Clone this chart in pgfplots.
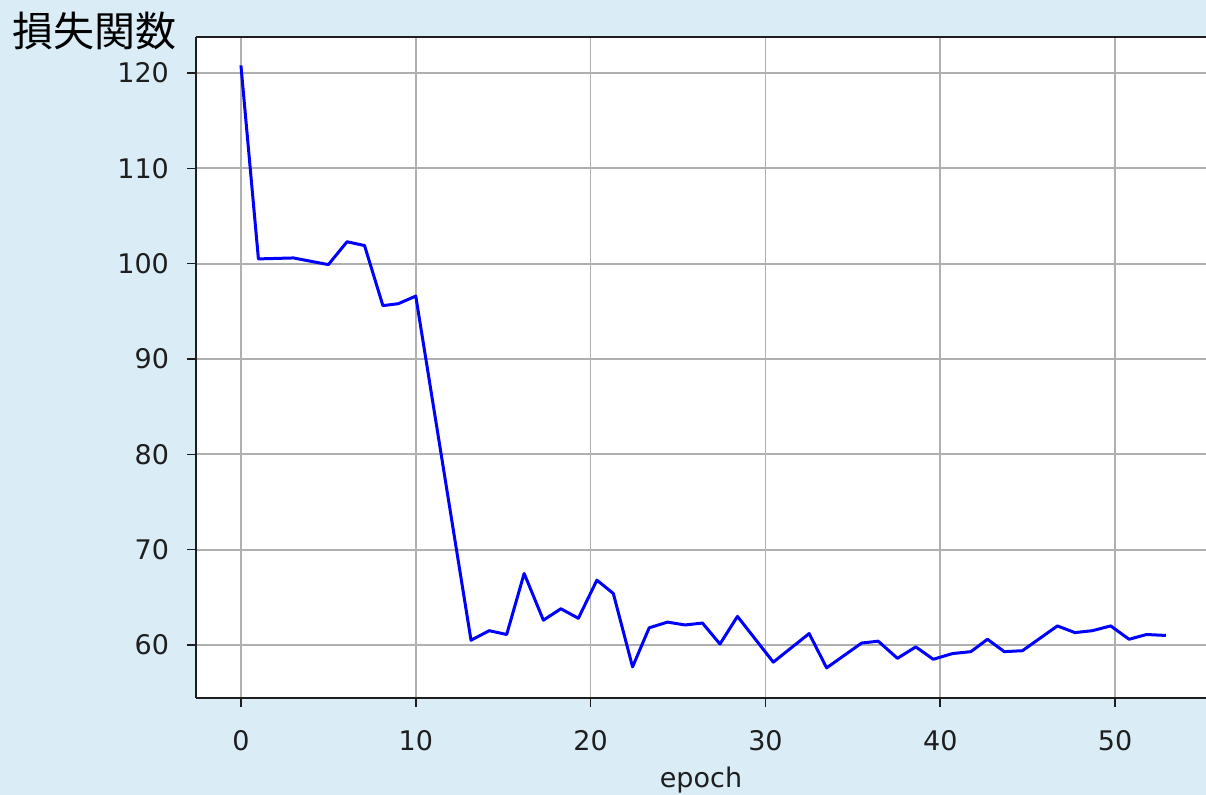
\documentclass[border=0pt]{standalone}
\usepackage{fontspec}
\setmainfont{DejaVu Sans}
\newfontfamily\cjk{Noto Sans CJK JP}
\usepackage{pgfplots}
\pgfplotsset{compat=1.18}
\definecolor{bgblue}{RGB}{218,237,247}
\definecolor{gridgray}{RGB}{176,176,176}
\definecolor{spine}{RGB}{30,30,30}

% loss per epoch
\pgfplotstableread{
epoch loss
0     120.8
1.0   100.5
3.0   100.6
5.0   99.9
6.07  102.3
7.07  101.9
8.12  95.6
9.0   95.8
10.0  96.6
13.16 60.5
14.2  61.5
15.2  61.1
16.2  67.5
17.3  62.6
18.3  63.8
19.3  62.8
20.36 66.8
21.3  65.4
22.4  57.7
23.35 61.8
24.4  62.4
25.4  62.1
26.4  62.3
27.4  60.1
28.4  63.0
30.45 58.2
32.5  61.2
33.5  57.6
35.5  60.2
36.45 60.4
37.55 58.6
38.6  59.8
39.6  58.5
40.7  59.1
41.75 59.3
42.7  60.6
43.66 59.3
44.7  59.4
46.7  62.0
47.7  61.3
48.7  61.5
49.75 62.0
50.8  60.6
51.8  61.1
52.9  61.0
}\losstable

\begin{document}
\begin{tikzpicture}
\fill[bgblue] (0,0) rectangle (603pt,397.5pt);
\useasboundingbox (0,0) rectangle (603pt,397.5pt);
\node[anchor=west, inner sep=0pt, font=\cjk\fontsize{20.5}{24}\selectfont] at (6pt,382pt) {損失関数};
\begin{axis}[
  at={(98pt,48.5pt)}, anchor=south west,
  scale only axis, width=505pt, height=330.5pt,
  xmin=-2.57, xmax=55.2, ymin=54.44, ymax=123.78,
  axis background/.style={fill=white},
  axis x line*=box, axis y line*=left,
  axis line style={spine, line width=1pt},
  xtick pos=bottom, ytick pos=left,
  xtick={0,10,...,50}, ytick={60,70,...,120},
  tick align=outside, major tick length=4.5pt,
  tick style={spine, line width=0.8pt},
  grid=major, major grid style={gridgray, line width=0.85pt},
  /pgf/number format/assume math mode=true,
  ticklabel style={font=\fontsize{13.5}{16}\selectfont, text=spine},
  yticklabel style={xshift=-5.5pt},
  xticklabel style={yshift=-8pt},
  xlabel={epoch},
  xlabel style={font=\fontsize{13.5}{16}\selectfont, text=spine, yshift=-1.5pt},
]
\addplot[blue, line width=1.5pt, line join=round] table[x=epoch, y=loss] {\losstable};
\end{axis}
\end{tikzpicture}
\end{document}
